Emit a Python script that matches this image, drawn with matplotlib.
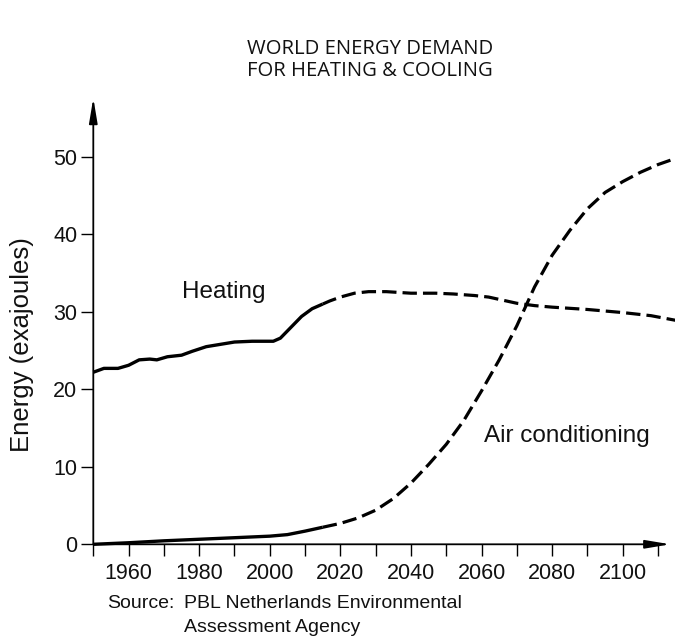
import matplotlib
matplotlib.use("Agg")
import matplotlib.pyplot as plt
import numpy as np

# ---- data ----
heat_years = [1950, 1953, 1957, 1960, 1963, 1966, 1968, 1971, 1975, 1978, 1982, 1986,
              1990, 1995, 2001, 2003, 2006, 2009, 2012, 2015, 2017, 2020, 2024, 2028,
              2033, 2040, 2047, 2052, 2058, 2062, 2066, 2070, 2075, 2080, 2090, 2100,
              2108, 2115]
heat_vals = [22.2, 22.7, 22.7, 23.1, 23.8, 23.9, 23.8, 24.2, 24.4, 24.9, 25.5, 25.8,
             26.1, 26.2, 26.2, 26.6, 28.0, 29.4, 30.4, 31.0, 31.4, 31.9, 32.4, 32.6,
             32.6, 32.4, 32.4, 32.3, 32.1, 31.9, 31.5, 31.1, 30.8, 30.6, 30.3, 29.9,
             29.5, 28.9]

ac_years = [1950, 1960, 1970, 1980, 1990, 2000, 2005, 2010, 2015, 2020, 2025, 2030,
            2035, 2040, 2045, 2050, 2055, 2060, 2065, 2070, 2075, 2080, 2085, 2090,
            2095, 2100, 2105, 2110, 2115]
ac_vals = [0.0, 0.2, 0.45, 0.65, 0.85, 1.05, 1.25, 1.7, 2.2, 2.7, 3.4, 4.4,
           5.9, 7.9, 10.3, 12.9, 16.0, 19.8, 23.8, 28.2, 33.2, 37.3, 40.5, 43.3,
           45.4, 46.8, 48.0, 49.0, 49.8]

projection_start = 2015
y_ticks = [0, 10, 20, 30, 40, 50]
x_ticks = list(range(1950, 2111, 10))
x_labels = [str(y) if y % 20 == 0 and 1960 <= y <= 2100 else "" for y in x_ticks]

title = "WORLD ENERGY DEMAND\nFOR HEATING & COOLING"
ylabel = "Energy (exajoules)"
source1 = "Source:"
source2 = "PBL Netherlands Environmental"
source3 = "Assessment Agency"

# ---- figure ----
W, H = 675, 636
fig = plt.figure(figsize=(W / 100, H / 100), dpi=100)
plt.rcParams['font.family'] = ['Liberation Sans', 'DejaVu Sans']

ax_left, ax_right, ax_bottom, ax_top = 93.3, 675, 544.3, 98
ax = fig.add_axes([ax_left / W, 1 - ax_bottom / H, (ax_right - ax_left) / W,
                   (ax_bottom - ax_top) / H])
ax.set_xlim(1950, 2114.8)
ax.set_ylim(0, (ax_bottom - ax_top) / 7.75)

def split(years, vals, cut):
    y = np.array(years, float); v = np.array(vals, float)
    return (y[y <= cut], v[y <= cut]), (y[y >= cut], v[y >= cut])

lw = 2.3
for yrs, vals in [(heat_years, heat_vals), (ac_years, ac_vals)]:
    (sy, sv), (dy, dv) = split(yrs, vals, projection_start)
    ax.plot(sy, sv, color='black', lw=lw + 0.1, solid_joinstyle='round',
            solid_capstyle='butt', clip_on=False, zorder=3)
    ax.plot(dy, dv, color='black', lw=lw, dashes=(4.5, 1.9),
            dash_capstyle='butt', clip_on=False, zorder=3)

for s in ['top', 'right', 'left', 'bottom']:
    ax.spines[s].set_visible(False)

# axes with arrows
ax.annotate('', xy=(0, 1.0), xytext=(0, 0), xycoords='axes fraction',
            arrowprops=dict(arrowstyle='-|>,head_length=1.5,head_width=0.25',
                            lw=1.3, color='black', shrinkA=0, shrinkB=0),
            annotation_clip=False)
ax.annotate('', xy=(0.992, 0), xytext=(0, 0), xycoords='axes fraction',
            arrowprops=dict(arrowstyle='-|>,head_length=1.5,head_width=0.25',
                            lw=1.3, color='black', shrinkA=0, shrinkB=0),
            annotation_clip=False)

ax.set_yticks(y_ticks)
ax.set_xticks(x_ticks)
ax.set_xticklabels(x_labels)
ax.tick_params(axis='both', direction='out', length=8.6, width=1.0, color='black',
               labelsize=15.5, labelcolor='#111111')
ax.tick_params(axis='y', pad=3)
ax.tick_params(axis='x', pad=5)

ax.set_ylabel(ylabel, fontsize=18.5, color='#111111')
ax.yaxis.set_label_coords(-(ax_left - 22) / (ax_right - ax_left), 0.447)
ax.yaxis.label.set_va('center')

ax.text(1975.2, 32.6, "Heating", fontsize=17.5, color='#111111',
        ha='left', va='center')
ax.text(2060.8, 14.0, "Air conditioning", fontsize=17.5, color='#111111',
        ha='left', va='center')

fig.text(370 / W, 1 - 60 / H, title, ha='center', va='center', fontsize=14.6,
         family=['Open Sans', 'DejaVu Sans'], color='#111111', linespacing=1.15)

fig.text(107 / W, 1 - 604 / H, source1, ha='left', va='center', fontsize=14,
         color='#111111')
fig.text(184 / W, 1 - 604 / H, source2, ha='left', va='center', fontsize=14,
         color='#111111')
fig.text(184 / W, 1 - 627 / H, source3, ha='left', va='center', fontsize=14,
         color='#111111')

fig.savefig("out.png", dpi=100)
